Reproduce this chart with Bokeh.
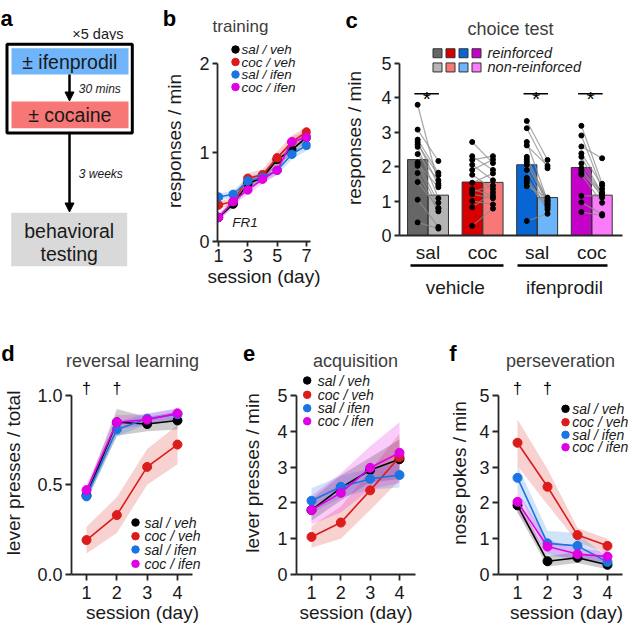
import numpy as np
from bokeh.plotting import figure
from bokeh.models import (Range1d, FixedTicker, Label, Arrow, NormalHead, PrintfTickFormatter,
                          LinearAxis)
from bokeh.layouts import row, column
from bokeh.embed import file_html
from bokeh.resources import INLINE

FONT = "Liberation Sans"
TXT = "#1a1a1a"
TITLE = "#3d3d3d"
AX = "#262626"

# ---------------- data ----------------
groups = ["sal / veh", "coc / veh", "sal / ifen", "coc / ifen"]
group_colors = ["#000000", "#dc1b1b", "#1a74e2", "#df00e6"]

# (b) training
train_sessions = [1, 2, 3, 4, 5, 6, 7]
train_sal_veh = [0.27, 0.42, 0.65, 0.72, 0.92, 1.03, 1.17]
train_coc_veh = [0.41, 0.45, 0.71, 0.75, 0.94, 1.12, 1.23]
train_sal_ifen = [0.50, 0.53, 0.68, 0.72, 0.80, 0.98, 1.08]
train_coc_ifen = [0.27, 0.45, 0.58, 0.70, 0.80, 1.12, 1.17]
train_sem_sal_veh = [0.03, 0.04, 0.05, 0.05, 0.05, 0.06, 0.06]
train_sem_coc_veh = [0.04, 0.04, 0.06, 0.06, 0.07, 0.07, 0.06]
train_sem_sal_ifen = [0.04, 0.04, 0.05, 0.05, 0.05, 0.06, 0.06]
train_sem_coc_ifen = [0.04, 0.04, 0.05, 0.05, 0.05, 0.06, 0.06]

# (c) choice test
choice_labels = ["sal", "coc", "sal", "coc"]
treatment_labels = ["vehicle", "ifenprodil"]
reinforced_mean = [2.20, 1.55, 2.05, 1.97]
nonreinforced_mean = [1.17, 1.54, 1.10, 1.17]
reinforced_colors = ["#666666", "#d70000", "#0866d4", "#c500c8"]
nonreinforced_colors = ["#b4b4b4", "#f87878", "#6cb5fa", "#fa7cfa"]
sal_veh_reinf = [3.79, 3.07, 2.78, 2.71, 2.64, 2.57, 2.36, 2.12, 2.08, 2.02, 1.81, 1.55, 1.04, 0.38]
sal_veh_nonreinf = [1.50, 2.16, 1.82, 1.45, 1.75, 1.08, 1.60, 0.95, 1.40, 0.80, 0.70, 0.78, 0.25, 0.20]
coc_veh_reinf = [2.71, 2.30, 2.19, 2.05, 1.90, 1.76, 1.53, 1.34, 1.26, 1.20, 1.00, 0.82, 0.28]
coc_veh_nonreinf = [2.10, 1.90, 2.30, 1.60, 2.20, 1.35, 1.80, 1.15, 1.45, 1.08, 0.90, 1.25, 0.78]
sal_ifen_reinf = [3.32, 3.11, 2.71, 2.61, 2.28, 2.21, 2.14, 2.05, 1.90, 1.67, 1.60, 1.53, 1.43, 0.42]
sal_ifen_nonreinf = [2.19, 1.95, 1.00, 2.02, 0.95, 1.05, 0.90, 1.00, 0.85, 0.80, 0.75, 0.90, 1.10, 0.63]
coc_ifen_reinf = [3.18, 2.90, 2.58, 2.38, 2.28, 2.09, 1.95, 1.89, 1.81, 1.76, 1.15, 0.96, 0.68]
coc_ifen_nonreinf = [1.50, 1.35, 2.24, 1.45, 1.20, 1.20, 1.10, 1.25, 1.20, 0.95, 1.15, 0.62, 0.58]
significant = [True, False, True, True]

# (d) reversal learning
rev_sessions = [1, 2, 3, 4]
rev_sal_veh = [0.44, 0.85, 0.84, 0.86]
rev_coc_veh = [0.19, 0.33, 0.60, 0.725]
rev_sal_ifen = [0.435, 0.81, 0.87, 0.895]
rev_coc_ifen = [0.47, 0.85, 0.865, 0.90]
rev_sem_sal_veh = [0.03, 0.075, 0.04, 0.05]
rev_sem_coc_veh = [0.075, 0.10, 0.10, 0.11]
rev_sem_sal_ifen = [0.03, 0.04, 0.03, 0.03]
rev_sem_coc_ifen = [0.03, 0.04, 0.03, 0.03]
rev_dagger_sessions = [1, 2]

# (e) acquisition
acq_sessions = [1, 2, 3, 4]
acq_sal_veh = [1.80, 2.42, 2.92, 3.22]
acq_coc_veh = [1.05, 1.45, 2.35, 3.28]
acq_sal_ifen = [2.06, 2.45, 2.67, 2.78]
acq_coc_ifen = [1.80, 2.28, 2.98, 3.40]
acq_sem_sal_veh = [0.30, 0.35, 0.35, 0.55]
acq_sem_coc_veh = [0.30, 0.45, 0.55, 0.65]
acq_sem_sal_ifen = [0.35, 0.30, 0.30, 0.35]
acq_sem_coc_ifen = [0.40, 0.55, 0.60, 0.85]

# (f) perseveration
per_sessions = [1, 2, 3, 4]
per_sal_veh = [1.93, 0.37, 0.47, 0.27]
per_coc_veh = [3.68, 2.45, 1.10, 0.80]
per_sal_ifen = [2.70, 0.87, 0.80, 0.35]
per_coc_ifen = [2.03, 0.78, 0.57, 0.50]
per_sem_sal_veh = [0.20, 0.15, 0.15, 0.12]
per_sem_coc_veh = [0.65, 0.50, 0.20, 0.20]
per_sem_sal_ifen = [0.35, 0.35, 0.35, 0.12]
per_sem_coc_ifen = [0.30, 0.20, 0.15, 0.15]
per_dagger_sessions = [1, 2]


# ---------------- helpers ----------------
def lin(p1, v1, p2, v2):
    k = (v2 - v1) / (p2 - p1)
    return lambda p: v1 + (p - p1) * k


def make_chart(origin, size, frame, xa, ya):
    x0, y0 = origin
    W, H = size
    l, t, r, b = frame
    fx, fy = lin(*xa), lin(*ya)
    p = figure(width=W, height=H, x_range=Range1d(fx(l), fx(r)), y_range=Range1d(fy(b), fy(t)),
               min_border_left=l - x0, min_border_right=x0 + W - r,
               min_border_top=t - y0, min_border_bottom=y0 + H - b,
               output_backend="svg", toolbar_location=None, tools="")
    p.xgrid.visible = False
    p.ygrid.visible = False
    p.outline_line_color = None
    return p, fx, fy


def make_canvas(origin, size):
    # a figure without axes whose data coordinates are the page pixels
    x0, y0 = origin
    W, H = size
    h = figure(width=W, height=H, x_range=Range1d(x0, x0 + W), y_range=Range1d(y0 + H, y0),
               min_border_left=0, min_border_right=0, min_border_top=0, min_border_bottom=0,
               x_axis_type=None, y_axis_type=None, output_backend="svg",
               toolbar_location=None, tools="")
    h.outline_line_color = None
    return h


def style_axis(ax, tick_len):
    ax.axis_line_width = 1.8
    ax.axis_line_color = AX
    ax.major_tick_line_width = 1.8
    ax.major_tick_line_color = AX
    ax.major_tick_out = tick_len
    ax.major_tick_in = 0
    ax.minor_tick_out = 0
    ax.minor_tick_in = 0
    ax.major_label_text_font = FONT
    ax.major_label_text_font_size = "18px"
    ax.major_label_text_color = TXT
    ax.axis_label_text_font = FONT
    ax.axis_label_text_font_size = "19px"
    ax.axis_label_text_font_style = "normal"
    ax.axis_label_text_color = TXT


def style_axes(p, xticks, yticks, xbounds, ybounds, xlabel, ylabel, tick_len, x_label_standoff,
               y_axis_label_standoff, x_axis_label_standoff):
    style_axis(p.xaxis[0], tick_len)
    style_axis(p.yaxis[0], tick_len)
    p.xaxis[0].ticker = FixedTicker(ticks=xticks)
    p.yaxis[0].ticker = FixedTicker(ticks=yticks)
    if xbounds is not None:
        p.xaxis[0].bounds = xbounds
    p.yaxis[0].bounds = ybounds
    p.xaxis[0].axis_label = xlabel
    p.yaxis[0].axis_label = ylabel
    p.xaxis[0].major_label_standoff = x_label_standoff
    p.yaxis[0].major_label_standoff = 3
    p.yaxis[0].axis_label_standoff = y_axis_label_standoff
    p.xaxis[0].axis_label_standoff = x_axis_label_standoff


def add_label(p, x, y, text, size, align="center", baseline="alphabetic", style="normal", color=TXT):
    p.add_layout(Label(x=x, y=y, text=text, text_font=FONT, text_font_size=size,
                       text_font_style=style, text_align=align, text_baseline=baseline,
                       text_color=color))


def draw_series(p, x, means, sems, size):
    for m, s, c in zip(means, sems, group_colors):
        m = np.array(m)
        s = np.array(s)
        p.varea(x=x, y1=m - s, y2=m + s, fill_color=c, fill_alpha=0.2)
    for m, c in zip(means, group_colors):
        p.line(x, m, line_color=c, line_width=1.6)
        p.scatter(x, m, size=size, fill_color=c, line_color=c)


def draw_legend(p, fx, fy, dot_x, text_x, rows_y, font_size):
    for name, c, ry in zip(groups, group_colors, rows_y):
        p.scatter([fx(dot_x)], [fy(ry)], size=7.5, fill_color=c, line_color=c)
        add_label(p, fx(text_x), fy(ry), name, font_size, align="left", baseline="middle",
                  style="italic")


TOP = 40  # height of the top header strip

# ---------------- header strips (panel letters and titles) ----------------
top_strip = make_canvas((0, 0), (634, TOP))
add_label(top_strip, 6, 18, "a", "22px", style="bold", color="black")
add_label(top_strip, 123, 33, "×5 days", "14.5px", align="right")
add_label(top_strip, 169, 18, "b", "22px", style="bold", color="black")
add_label(top_strip, 240, 26, "training", "17px", color=TITLE)
add_label(top_strip, 351, 20, "c", "22px", style="bold", color="black")
add_label(top_strip, 510, 28, "choice test", "18px", color=TITLE)

bottom_strip = make_canvas((0, 300), (634, 71))
add_label(bottom_strip, 7.5, 353, "d", "22px", style="bold", color="black")
add_label(bottom_strip, 132, 360.5, "reversal learning", "18px", color=TITLE)
add_label(bottom_strip, 248.5, 353, "e", "22px", style="bold", color="black")
add_label(bottom_strip, 355, 360.5, "acquisition", "18px", color=TITLE)
add_label(bottom_strip, 452.5, 353, "f", "22px", style="bold", color="black")
add_label(bottom_strip, 560, 360.5, "perseveration", "18px", color=TITLE)

# ---------------- (a) design ----------------
pa = make_canvas((0, TOP), (150, 300 - TOP))
pa.quad(left=[11], right=[128], top=[47.7], bottom=[74], fill_color="#70b5f9", line_color=None)
pa.quad(left=[11], right=[128], top=[101], bottom=[127.7], fill_color="#f77676", line_color=None)
pa.quad(left=[10.7], right=[126.7], top=[212.3], bottom=[265.7], fill_color="#d9d9d9", line_color=None)
pa.quad(left=[6.5], right=[131.8], top=[43.8], bottom=[132.5], fill_color=None,
        line_color="black", line_width=3)
pa.add_layout(Arrow(end=NormalHead(size=9, fill_color="black", line_color="black"),
                    x_start=69, y_start=74, x_end=69, y_end=100.5, line_width=2.5, line_color="black"))
pa.add_layout(Arrow(end=NormalHead(size=9, fill_color="black", line_color="black"),
                    x_start=69, y_start=133, x_end=69, y_end=211.5, line_width=2.5, line_color="black"))
add_label(pa, 69.3, 61, "± ifenprodil", "19.5px", baseline="middle")
add_label(pa, 78.3, 88, "30 mins", "12px", align="left", baseline="middle", style="italic")
add_label(pa, 69.3, 114.5, "± cocaine", "19.5px", baseline="middle")
add_label(pa, 78.3, 173.3, "3 weeks", "12px", align="left", baseline="middle", style="italic")
add_label(pa, 68.7, 230, "behavioral", "19.5px", baseline="middle")
add_label(pa, 68.7, 253, "testing", "19.5px", baseline="middle")

# ---------------- (b) training ----------------
pb, bx, by = make_chart((150, TOP), (172, 300 - TOP), (217, TOP, 310, 241), (218, 1, 306, 7), (241, 0, 63, 2))
style_axes(pb, [1, 3, 5, 7], [0, 1, 2], None, (0, 2), "session (day)", "responses / min", 5, 2, 11, 1)
draw_series(pb, train_sessions,
            [train_sal_veh, train_coc_veh, train_sal_ifen, train_coc_ifen],
            [train_sem_sal_veh, train_sem_coc_veh, train_sem_sal_ifen, train_sem_coc_ifen], 8.5)
draw_legend(pb, bx, by, 235, 241, [49, 61.5, 74, 86.5], "13.5px")
add_label(pb, bx(244.5), by(222), "FR1", "13.5px", baseline="middle", style="italic")

# ---------------- (c) choice test ----------------
pc, cx, cy = make_chart((322, TOP), (312, 300 - TOP), (399, TOP, 622, 239), (427.5, 1, 591.25, 4), (239, 0, 63, 5))
style_axes(pc, [1, 2, 3, 4], [0, 1, 2, 3, 4, 5], None, (0, 5), None, "responses / min", 5, 6, 13, 0)
pc.xaxis[0].major_tick_out = 0
pc.xaxis[0].major_label_text_font_size = "19px"
pc.xaxis[0].major_label_overrides = {i + 1: lab for i, lab in enumerate(choice_labels)}
# second axis: treatment groups with split underline
group_axis = LinearAxis(ticker=FixedTicker(ticks=[1.5, 3.5]),
                        major_label_overrides={1.5: treatment_labels[0], 3.5: treatment_labels[1]},
                        bounds=(cx(410), cx(607)))
style_axis(group_axis, 0)
group_axis.axis_line_width = 2.5
group_axis.axis_line_color = "black"
group_axis.axis_line_dash = "93 14 90"
group_axis.major_tick_line_color = None
group_axis.major_label_text_font_size = "19px"
group_axis.major_label_standoff = 11
pc.add_layout(group_axis, "below")

gx = np.arange(1, 5)
OFF = 0.19
pc.vbar(x=gx - OFF, top=reinforced_mean, width=0.37, fill_color=reinforced_colors,
        line_color="#333333", line_width=1)
pc.vbar(x=gx + OFF, top=nonreinforced_mean, width=0.37, fill_color=nonreinforced_colors,
        line_color="#333333", line_width=1)
indiv = [(sal_veh_reinf, sal_veh_nonreinf), (coc_veh_reinf, coc_veh_nonreinf),
         (sal_ifen_reinf, sal_ifen_nonreinf), (coc_ifen_reinf, coc_ifen_nonreinf)]
for g, (r, n) in zip(gx, indiv):
    pc.segment(x0=[g - OFF] * len(r), y0=r, x1=[g + OFF] * len(n), y1=n,
               line_color="#8c8c8c", line_alpha=0.75, line_width=1.2)
for g, (r, n) in zip(gx, indiv):
    pc.scatter([g - OFF] * len(r), r, size=5, fill_color="black", line_color="black")
    pc.scatter([g + OFF] * len(n), n, size=5, fill_color="black", line_color="black")
sig_x = [g for g, s in zip(gx, significant) if s]
pc.segment(x0=[g - 0.25 for g in sig_x], y0=[cy(94.3)] * len(sig_x),
           x1=[g + 0.2 for g in sig_x], y1=[cy(94.3)] * len(sig_x), line_color="black", line_width=1.6)
for g in sig_x:
    add_label(pc, g - 0.02, cy(99.5), "*", "21px", color="black")
for k, (c1, c2) in enumerate(zip(reinforced_colors, nonreinforced_colors)):
    pc.scatter([cx(437 + 13 * k)], [cy(53)], marker="square", size=9, fill_color=c1, line_color="#333333")
    pc.scatter([cx(437 + 13 * k)], [cy(67.5)], marker="square", size=9, fill_color=c2, line_color="#333333")
add_label(pc, cx(487), cy(53), "reinforced", "14.5px", align="left", baseline="middle", style="italic")
add_label(pc, cx(487), cy(67.5), "non-reinforced", "14.5px", align="left", baseline="middle", style="italic")

# ---------------- (d) reversal learning ----------------
pd_, dx, dy = make_chart((0, 371), (213, 261), (71, 371, 213, 574), (86, 1, 177, 4), (573.5, 0, 395, 1))
style_axes(pd_, [1, 2, 3, 4], [0, 0.5, 1.0], (dx(71), dx(192)), (0, 1), "session (day)",
           "lever presses / total", 6, 5, 10, 0)
pd_.yaxis[0].formatter = PrintfTickFormatter(format="%.1f")
draw_series(pd_, rev_sessions, [rev_sal_veh, rev_coc_veh, rev_sal_ifen, rev_coc_ifen],
            [rev_sem_sal_veh, rev_sem_coc_veh, rev_sem_sal_ifen, rev_sem_coc_ifen], 9)
draw_legend(pd_, dx, dy, 135, 144, [522, 535.7, 549, 563.3], "14px")
for s in rev_dagger_sessions:
    add_label(pd_, s, dy(388.3), "†", "16px", baseline="middle", color="black")

# ---------------- (e) acquisition ----------------
pe, ex, ey = make_chart((213, 371), (210, 261), (296, 371, 415, 574), (311, 1, 399, 4), (574, 0, 395, 5))
style_axes(pe, [1, 2, 3, 4], [0, 1, 2, 3, 4, 5], None, (0, 5), "session (day)",
           "lever presses / min", 6, 5, 11, 0)
draw_series(pe, acq_sessions, [acq_sal_veh, acq_coc_veh, acq_sal_ifen, acq_coc_ifen],
            [acq_sem_sal_veh, acq_sem_coc_veh, acq_sem_sal_ifen, acq_sem_coc_ifen], 9)
draw_legend(pe, ex, ey, 306.7, 317.3, [380, 394.3, 407.7, 420.7], "14px")

# ---------------- (f) perseveration ----------------
pf, fx_, fy_ = make_chart((423, 371), (211, 261), (498, 371, 634, 574), (517, 1, 607, 4), (574, 0, 395, 5))
style_axes(pf, [1, 2, 3, 4], [0, 1, 2, 3, 4, 5], (fx_(498), fx_(622)), (0, 5), "session (day)",
           "nose pokes / min", 6, 5, 6, 0)
draw_series(pf, per_sessions, [per_sal_veh, per_coc_veh, per_sal_ifen, per_coc_ifen],
            [per_sem_sal_veh, per_sem_coc_veh, per_sem_sal_ifen, per_sem_coc_ifen], 9)
draw_legend(pf, fx_, fy_, 565, 571.7, [408.3, 421.7, 434.3, 446.7], "14px")
for s in per_dagger_sessions:
    add_label(pf, s, fy_(388.3), "†", "16px", baseline="middle", color="black")

# each chart is wrapped in its own column so that Bokeh does not align the frames of neighbours
layout = column(
    top_strip,
    row(column(pa), column(pb), column(pc)),
    bottom_strip,
    row(column(pd_), column(pe), column(pf)),
)
open("out.html", "w").write(file_html(layout, INLINE))
